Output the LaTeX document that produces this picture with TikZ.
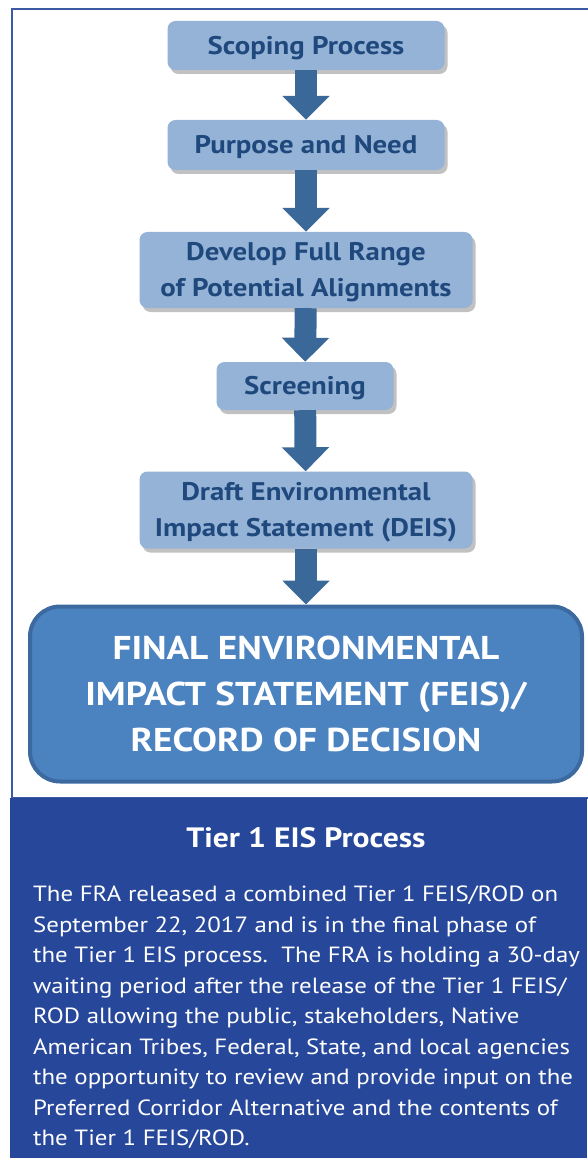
\documentclass[tikz,border=0pt]{standalone}
\usepackage{fontspec}
\setmainfont{PT Sans}[FakeStretch=1.13]
\usetikzlibrary{arrows.meta, positioning, shadows}
\definecolor{StepFill}{HTML}{95B3D7}
\definecolor{StepText}{HTML}{1F497D}
\definecolor{FlowArrow}{HTML}{3A6899}
\definecolor{FinalFill}{HTML}{4B82C0}
\definecolor{FinalEdge}{HTML}{3C6AA0}
\definecolor{PanelBlue}{HTML}{27479A}

\tikzset{
  stepbox/.style={rounded corners=8pt, fill=StepFill, text=StepText, align=center,
    font=\bfseries\fontsize{25.5}{36}\selectfont, inner sep=0pt, text depth=1pt,
    drop shadow={shadow xshift=3pt, shadow yshift=-4pt, opacity=0.35, fill=black!70}},
  flow/.style={FlowArrow, line width=22pt, -{Triangle[width=46pt, length=24pt]}}
}

\begin{document}
\begin{tikzpicture}[x=1pt, y=-1pt]
        \useasboundingbox (0,0) rectangle (587,1158);
        % Outer frame and info panel
        \draw[PanelBlue!90, line width=2pt] (12,9) rectangle (600,798);
        \fill[PanelBlue] (10,798) rectangle (587,1158);

        % Process steps
        \node[stepbox, minimum width=277pt, minimum height=49pt] (scoping) at (306,45.5) {Scoping Process};
        \node[stepbox, minimum width=277pt, minimum height=50pt] (purpose) at (306,145) {Purpose and Need};
        \node[stepbox, minimum width=333pt, minimum height=76pt] (develop) at (306,270) {Develop Full Range\\of Potential Alignments};
        \node[stepbox, minimum width=177pt, minimum height=48pt] (screening) at (305,386) {Screening};
        \node[stepbox, minimum width=333pt, minimum height=77pt] (deis) at (306,510) {Draft Environmental\\Impact Statement (DEIS)};
        \node[draw=FinalEdge, line width=4pt, fill=FinalFill, rounded corners=30pt, text=white,
              align=center, font=\bfseries\fontsize{33}{46}\selectfont,
              minimum width=552pt, minimum height=175pt] (feis) at (306,694)
              {FINAL ENVIRONMENTAL\\IMPACT STATEMENT (FEIS)/\\RECORD OF DECISION};

        % Arrows between steps
        \draw[flow] (scoping) -- (purpose);
        \draw[flow] (purpose) -- (develop);
        \draw[flow] (develop) -- (screening);
        \draw[flow] (screening) -- (deis);
        \draw[flow] (deis) -- (feis);

        % Panel text
        \node[text=white, font=\bfseries\fontsize{28}{34}\selectfont] (title) at (306,838) {Tier 1 EIS Process};
        \node[text=white, align=left, anchor=north west, inner sep=0pt,
              font=\fontsize{22}{30.5}\selectfont] (body) at (33,886)
              {The FRA released a combined Tier 1 FEIS/ROD on\\
               September 22, 2017 and is in the final phase of\\
               the Tier 1 EIS process.\ \ The FRA is holding a 30-day\\
               waiting period after the release of the Tier 1 FEIS/\\
               ROD allowing the public, stakeholders, Native\\
               American Tribes, Federal, State, and local agencies\\
               the opportunity to review and provide input on the\\
               Preferred Corridor Alternative and the contents of\\
               the Tier 1 FEIS/ROD.};
\end{tikzpicture}
\end{document}
